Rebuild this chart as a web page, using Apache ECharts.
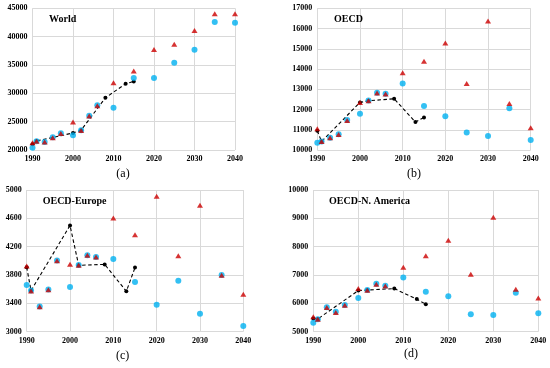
<!DOCTYPE html>
<html>
<head>
<meta charset="utf-8">
<script src="https://cdn.jsdelivr.net/npm/echarts@6/dist/echarts.min.js"></script>
<style>
html,body{margin:0;padding:0;background:#fff;}
#chart{width:550px;height:368px;}
</style>
</head>
<body>
<div id="chart"></div>
<script>
// ---------- data ----------
var histYears = [1990, 1991, 2000, 2002, 2008, 2013, 2015];
var projYears = [1990, 1991, 1993, 1995, 1997, 2000, 2002, 2004, 2006, 2010, 2015, 2020, 2025, 2030, 2035, 2040];

var worldHist = [21000, 21600, 23000, 23500, 29200, 31700, 32100];
var worldRed  = [21300, 21550, 21400, 22150, 22900, 24950, 23450, 26000, 27800, 31850, 33950, 37750, 38650, 41100, 44050, 44050];
var worldBlue = [20400, 21550, 21400, 22250, 22950, 22600, 23500, 26050, 27900, 27450, 32700, 32700, 35400, 37700, 42600, 42450];

var oecdHist = [10950, 10420, 12350, 12430, 12530, 11380, 11610];
var oecdRed  = [11050, 10420, 10600, 10760, 11460, 12350, 12430, 12820, 12770, 13810, 14380, 15290, 13280, 16370, 12300, 11100];
var oecdBlue = [10360, 10420, 10600, 10780, 11480, 11790, 12440, 12830, 12780, 13280, 12170, 11670, 10870, 10690, 12060, 10490];

var eurHist = [3910, 3580, 4500, 3937, 3950, 3570, 3905];
var eurRed  = [3927, 3574, 3353, 3593, 4002, 3951, 3937, 4078, 4054, 4605, 4369, 4911, 4073, 4784, 3796, 3528];
var eurBlue = [3659, 3580, 3355, 3595, 4005, 3631, 3940, 4080, 4056, 4026, 3702, 3381, 3720, 3254, 3800, 3080];

var naHist = [5470, 5450, 6450, 6470, 6520, 6150, 5970];
var naRed  = [5530, 5440, 5850, 5680, 5930, 6520, 6460, 6670, 6610, 7270, 7680, 8230, 7030, 9040, 6500, 6190];
var naBlue = [5320, 5440, 5860, 5700, 5940, 6190, 6470, 6690, 6620, 6910, 6410, 6250, 5620, 5590, 6370, 5650];

var panelTitles = ['World', 'OECD', 'OECD-Europe', 'OECD-N. America'];
var panelLetters = ['(a)', '(b)', '(c)', '(d)'];
var yMins = [20000, 10000, 3000, 5000];
var yMaxs = [45000, 17000, 5000, 10000];
var yIntervals = [5000, 1000, 400, 1000];

// ---------- chart ----------
var hists = [worldHist, oecdHist, eurHist, naHist];
var reds = [worldRed, oecdRed, eurRed, naRed];
var blues = [worldBlue, oecdBlue, eurBlue, naBlue];

function pairs(xs, ys) { return xs.map(function (x, i) { return [x, ys[i]]; }); }

var grids = [
  {left: 32.5, top: 8.3, width: 202.5, height: 141.7},
  {left: 317.3, top: 8.3, width: 213.4, height: 141.7},
  {left: 26.7, top: 190, width: 216.6, height: 141.7},
  {left: 313.3, top: 190, width: 225, height: 141.7}
];
var letterPos = [[123, 174], [414, 173.5], [122.7, 355.5], [411, 354]];
var titlePos = [[49, 14.5], [334, 14.5], [42.7, 196.5], [329, 196.5]];

var FONT = '"Liberation Serif", "Times New Roman", serif';
var gridColor = '#d9d9d9';

var xAxes = [], yAxes = [], series = [], graphics = [];
grids.forEach(function (g, i) {
  xAxes.push({
    type: 'value', gridIndex: i, min: 1990, max: 2040, interval: 10,
    axisLine: {show: false}, axisTick: {show: false},
    splitLine: {show: true, lineStyle: {color: gridColor, width: 1}},
    axisLabel: {fontFamily: FONT, fontWeight: 'bold', fontSize: 8, color: '#000', margin: 5,
      showMinLabel: true, showMaxLabel: true, formatter: function (v) { return String(v); }}
  });
  yAxes.push({
    type: 'value', gridIndex: i, min: yMins[i], max: yMaxs[i], interval: yIntervals[i],
    axisLine: {show: false}, axisTick: {show: false},
    splitLine: {show: true, lineStyle: {color: gridColor, width: 1}},
    axisLabel: {fontFamily: FONT, fontWeight: 'bold', fontSize: 8, color: '#000', margin: 5,
      formatter: function (v) { return String(v); }}
  });
  series.push({
    type: 'line', xAxisIndex: i, yAxisIndex: i, data: pairs(histYears, hists[i]),
    symbol: 'circle', symbolSize: 4, itemStyle: {color: '#000'},
    lineStyle: {color: '#000', width: 1.1, type: [3.5, 2.5]}, z: 2, animation: false
  });
  series.push({
    type: 'scatter', xAxisIndex: i, yAxisIndex: i, data: pairs(projYears, blues[i]),
    symbol: 'circle', symbolSize: 6, itemStyle: {color: '#00b0f0'}, z: 3, animation: false
  });
  series.push({
    type: 'scatter', xAxisIndex: i, yAxisIndex: i, data: pairs(projYears, reds[i]),
    symbol: 'triangle', symbolSize: [6, 5], itemStyle: {color: '#cc0000'}, z: 4, animation: false
  });
  graphics.push({
    type: 'text', left: titlePos[i][0], top: titlePos[i][1], z: 100,
    style: {text: panelTitles[i], font: 'bold 10px ' + FONT, fill: '#000'}
  });
  graphics.push({
    type: 'text', x: letterPos[i][0], y: letterPos[i][1], z: 100,
    style: {text: panelLetters[i], font: '12px ' + FONT, fill: '#000', align: 'center', verticalAlign: 'middle'}
  });
});

var chart = echarts.init(document.getElementById('chart'), null, {renderer: 'canvas'});
chart.setOption({
  animation: false,
  backgroundColor: '#fff',
  grid: grids,
  xAxis: xAxes,
  yAxis: yAxes,
  series: series,
  graphic: graphics
});
</script>
</body>
</html>
